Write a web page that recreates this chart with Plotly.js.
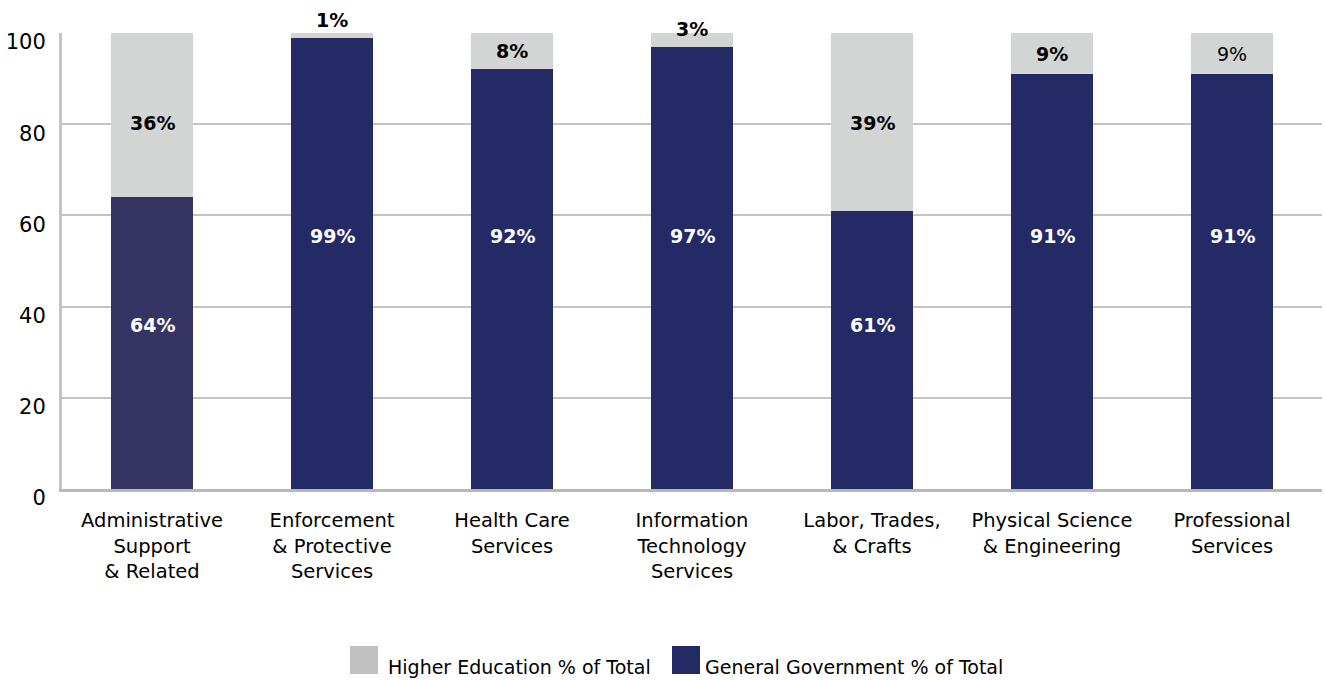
<!DOCTYPE html>
<html><head><meta charset="utf-8">
<script src="https://cdn.plot.ly/plotly-3.0.1.min.js"></script>
<style>html,body{margin:0;padding:0;background:#fff}#chart{width:1325px;height:680px}</style>
</head><body><div id="chart"></div>
<script>
const categories = ["Administrative<br>Support<br>& Related","Enforcement<br>& Protective<br>Services","Health Care<br>Services","Information<br>Technology<br>Services","Labor, Trades,<br>& Crafts","Physical Science<br>& Engineering","Professional<br>Services"];
const generalGov = [64, 99, 92, 97, 61, 91, 91];
const higherEd = [36, 1, 8, 3, 39, 9, 9];
const genColors = ["#353463","#232a66","#232a66","#232a66","#232a66","#232a66","#232a66"];
const labelFont = "Tahoma, 'DejaVu Sans', sans-serif";

const traces = [
  {type:'bar', x:categories, y:generalGov, marker:{color:genColors}, name:'General Government % of Total', hoverinfo:'none', showlegend:false},
  {type:'bar', x:categories, y:higherEd, marker:{color:'#d3d5d5'}, name:'Higher Education % of Total', hoverinfo:'none', showlegend:false}
];
const annotations = [];
categories.forEach((c,i)=>{
  const g = generalGov[i];
  annotations.push({x:c, y:(g >= 80 ? 55.5 : 36), xref:'x', yref:'y', text:g+'%', showarrow:false,
    font:{family:labelFont, size:19, color:'#ffffff', weight:'bold'}});
  const h = higherEd[i];
  if (h < 5) {
    annotations.push({x:c, y:100-h, xref:'x', yref:'y', yanchor:'bottom', yshift:5, text:h+'%', showarrow:false,
      font:{family:labelFont, size:19, color:'#000000', weight:'bold'}});
  } else {
    annotations.push({x:c, y:(h >= 30 ? 80.3 : g+h/2), xref:'x', yref:'y', text:h+'%', showarrow:false,
      font:{family:labelFont, size:19, color:'#000000', weight: i===6 ? 'normal' : 'bold'}});
  }
});
// legend drawn manually
const shapes = [
  {type:'rect', xref:'paper', yref:'paper', x0:(350-62)/1260, x1:(378-62)/1260, y0:-(646-489)/456, y1:-(674-489)/456, fillcolor:'#c0c0c0', line:{width:0}},
  {type:'rect', xref:'paper', yref:'paper', x0:(672-62)/1260, x1:(700-62)/1260, y0:-(646-489)/456, y1:-(674-489)/456, fillcolor:'#232a66', line:{width:0}}
];
annotations.push({xref:'paper', yref:'paper', x:(386-62)/1260, y:-(667-489)/456, xanchor:'left', yanchor:'middle', showarrow:false,
  text:'Higher Education % of Total', font:{family:labelFont, size:19, color:'#000'}});
annotations.push({xref:'paper', yref:'paper', x:(703-62)/1260, y:-(667-489)/456, xanchor:'left', yanchor:'middle', showarrow:false,
  text:'General Government % of Total', font:{family:labelFont, size:19, color:'#000'}});

const layout = {
  width:1325, height:680,
  margin:{l:62, r:3, t:33, b:191},
  barmode:'stack', bargap:0.544,
  paper_bgcolor:'#fff', plot_bgcolor:'#fff',
  font:{family:labelFont, size:18, color:'#000'},
  xaxis:{type:'category', showgrid:false, showline:true, linecolor:'#b8b8b8', linewidth:3, ticks:'', tickfont:{size:19.5}, tickangle:0, ticklabelstandoff:12, fixedrange:true},
  yaxis:{range:[0,100], tickvals:[0,20,40,60,80,100], showgrid:true, gridcolor:'#c4c4c4', gridwidth:2, showline:true, linecolor:'#c4c4c4', linewidth:3,
    zeroline:false, ticks:'', tickfont:{size:21}, ticklabelshift:9, ticklabelstandoff:9, fixedrange:true},
  shapes:shapes, annotations:annotations, showlegend:false
};
Plotly.newPlot('chart', traces, layout, {staticPlot:true, displayModeBar:false});
</script></body></html>
